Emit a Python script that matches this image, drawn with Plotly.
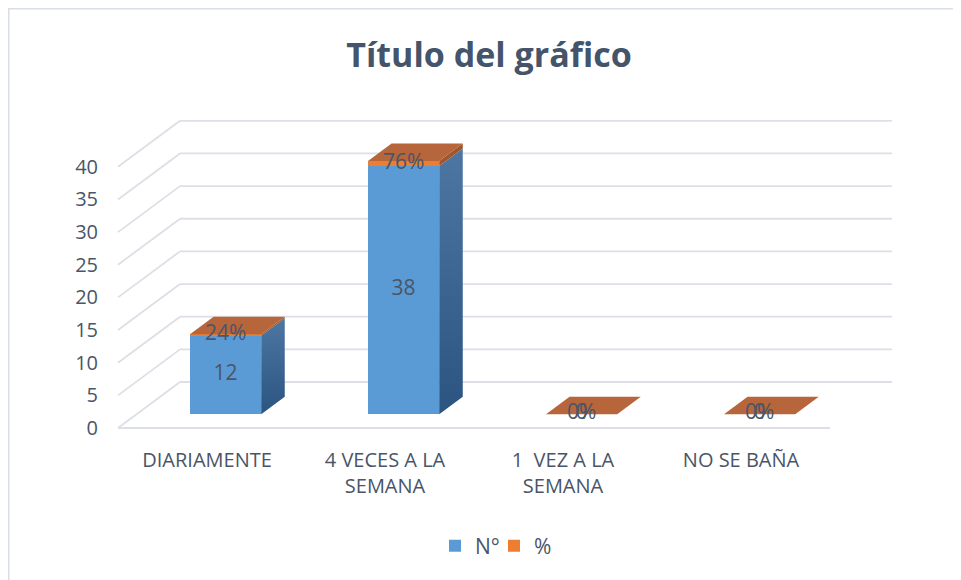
import plotly.graph_objects as go

# ---------------- data ----------------
categories = ["DIARIAMENTE", "4 VECES A LA SEMANA", "1  VEZ A LA SEMANA", "NO SE BAÑA"]
category_ticktext = ["DIARIAMENTE", "4 VECES A LA<br>SEMANA", "1  VEZ A LA<br>SEMANA", "NO SE BAÑA"]
n_values = [12, 38, 0, 0]
pct_values = [0.24, 0.76, 0, 0]
series_names = ["N°", "%"]
y_ticks = [0, 5, 10, 15, 20, 25, 30, 35, 40]
title_text = "Título del gráfico"

# ---------------- geometry / style (screen pixels) ----------------
SW, SH = 961, 580          # browser window
OFF = 8                    # default page body margin
W, H = SW - OFF, SH - OFF  # figure size
PX_PER_CAT = 178.0
PX_PER_UNIT = 6.53
X0_PX = 207.0      # screen x of first category (front plane)
Y0_PX = 428.0      # screen y of value 0 (front plane)
PLOT_L, PLOT_R, PLOT_T, PLOT_B = 103, 905, 100, 436   # plot area, screen px
ML, MR, MT, MB = PLOT_L - OFF, SW - PLOT_R, PLOT_T - OFF, SH - PLOT_B
DEPTH_X = 62.0 / PX_PER_CAT      # floor depth in category units
DEPTH_Y = 46.0 / PX_PER_UNIT     # floor depth in value units
F0, F1 = 0.30, 0.68              # bar front/back depth fractions
BAR_W = 0.40

TXT = "#4A5568"
GRID = "#DCE0E6"
BLUE = "#5B9BD5"
ORANGE = "#ED7D31"
TOP_ORANGE = "#B7653A"
SIDE_ORANGE = "#A0562A"
FONT = "Open Sans"

x_range = [(PLOT_L - X0_PX) / PX_PER_CAT, (PLOT_R - X0_PX) / PX_PER_CAT]
y_range = [(Y0_PX - PLOT_B) / PX_PER_UNIT, (Y0_PX - PLOT_T) / PX_PER_UNIT]

def paper_x(sx):
    return (sx - PLOT_L) / (PLOT_R - PLOT_L)

def paper_y(sy):
    return (PLOT_B - sy) / (PLOT_B - PLOT_T)

def cont_x(sx):
    return (sx - OFF) / W

def cont_y(sy):
    return 1 - (sy - OFF) / H

fig = go.Figure()

# ---------------- walls / gridlines ----------------
n_cat = len(categories)
u_front_l, u_front_r = -0.5, n_cat - 0.5
u_back_l, u_back_r = u_front_l + DEPTH_X, u_front_r + DEPTH_X
shapes = []
for v in y_ticks:
    shapes.append(dict(type="line", xref="x", yref="y", layer="below",
                       x0=u_back_l, x1=u_back_r, y0=v + DEPTH_Y, y1=v + DEPTH_Y,
                       line=dict(color=GRID, width=1.8)))
    shapes.append(dict(type="line", xref="x", yref="y", layer="below",
                       x0=u_front_l, x1=u_back_l, y0=v, y1=v + DEPTH_Y,
                       line=dict(color=GRID, width=1.8)))
shapes.append(dict(type="line", xref="x", yref="y", layer="below",
                   x0=u_front_l, x1=u_front_r, y0=0, y1=0,
                   line=dict(color=GRID, width=1.8)))
# chart frame (top & left edges)
shapes.append(dict(type="line", xref="paper", yref="paper", layer="below",
                   x0=paper_x(OFF), x1=paper_x(SW + 5), y0=paper_y(OFF + 0.8), y1=paper_y(OFF + 0.8),
                   line=dict(color="#D9DEE6", width=1.5)))
shapes.append(dict(type="line", xref="paper", yref="paper", layer="below",
                   x0=paper_x(OFF + 0.8), x1=paper_x(OFF + 0.8), y0=paper_y(OFF), y1=paper_y(SH + 5),
                   line=dict(color="#D9DEE6", width=1.5)))

# ---------------- bars (front faces) ----------------
cx = [i + F0 * DEPTH_X for i in range(n_cat)]
base0 = F0 * DEPTH_Y
fig.add_trace(go.Bar(x=cx, y=n_values, base=[base0] * n_cat, width=BAR_W,
                     name=series_names[0], marker=dict(color=BLUE, line=dict(width=0)),
                     hoverinfo="skip"))
fig.add_trace(go.Bar(x=cx, y=pct_values, base=[base0 + n for n in n_values], width=BAR_W,
                     name=series_names[1], marker=dict(color=ORANGE, line=dict(width=0)),
                     hoverinfo="skip"))

# ---------------- 3D side and top faces ----------------
dxd = (F1 - F0) * DEPTH_X
dyd = (F1 - F0) * DEPTH_Y
for i in range(n_cat):
    xl, xr = cx[i] - BAR_W / 2, cx[i] + BAR_W / 2
    n, p = n_values[i], pct_values[i]
    if n > 0:
        b, t = base0, base0 + n
        fig.add_trace(go.Scatter(x=[xr, xr, xr + dxd, xr + dxd, xr], y=[b, t, t + dyd, b + dyd, b],
                                 mode="lines", fill="toself", line=dict(width=0),
                                 fillgradient=dict(type="vertical",
                                                   colorscale=[[0, "#2B5480"], [1, "#4E76A2"]]),
                                 showlegend=False, hoverinfo="skip"))
    if p > 0:
        b, t = base0 + n, base0 + n + p
        fig.add_trace(go.Scatter(x=[xr, xr, xr + dxd, xr + dxd, xr], y=[b, t, t + dyd, b + dyd, b],
                                 mode="lines", fill="toself", line=dict(width=0), fillcolor=SIDE_ORANGE,
                                 showlegend=False, hoverinfo="skip"))
    top = base0 + n + p
    fig.add_trace(go.Scatter(x=[xl, xr, xr + dxd, xl + dxd, xl], y=[top, top, top + dyd, top + dyd, top],
                             mode="lines", fill="toself", line=dict(width=0), fillcolor=TOP_ORANGE,
                             showlegend=False, hoverinfo="skip"))

# ---------------- data labels ----------------
fig.add_trace(go.Scatter(x=cx, y=[base0 + n / 2 for n in n_values], mode="text",
                         text=[str(n) for n in n_values], textposition="middle center",
                         textfont=dict(family=FONT, size=21, color=TXT),
                         showlegend=False, hoverinfo="skip"))
fig.add_trace(go.Scatter(x=cx, y=[base0 + n + p / 2 for n, p in zip(n_values, pct_values)], mode="text",
                         text=[f"{p:.0%}" for p in pct_values], textposition="middle center",
                         textfont=dict(family=FONT, size=21, color=TXT),
                         showlegend=False, hoverinfo="skip"))

fig.update_layout(
    width=W, height=H,
    margin=dict(l=ML, r=MR, t=MT, b=MB, autoexpand=False),
    paper_bgcolor="white", plot_bgcolor="white",
    barmode="overlay", bargap=0,
    shapes=shapes,
    title=dict(text=f"<b>{title_text}</b>", x=cont_x(489), xref="container", xanchor="center",
               y=cont_y(55), yref="container", yanchor="middle",
               font=dict(family=FONT, size=34, color="#44546A")),
    xaxis=dict(range=x_range, showgrid=False, zeroline=False, showline=False,
               tickmode="array", tickvals=list(range(n_cat)), ticktext=category_ticktext,
               ticks="", tickfont=dict(family=FONT, size=20, color=TXT), ticklabelstandoff=10,
               fixedrange=True),
    yaxis=dict(range=y_range, showgrid=False, zeroline=False, showline=False,
               tickmode="array", tickvals=y_ticks, ticktext=[str(v) for v in y_ticks],
               ticks="", tickfont=dict(family=FONT, size=20, color=TXT), ticklabelstandoff=4,
               fixedrange=True),
    legend=dict(orientation="h", x=cont_x(494), xanchor="center", xref="container",
                y=cont_y(546), yanchor="middle", yref="container",
                entrywidth=14, entrywidthmode="pixels",
                font=dict(family=FONT, size=21, color=TXT), itemclick=False, itemdoubleclick=False,
                bgcolor="rgba(0,0,0,0)"),
    showlegend=True,
)

fig.write_html("out.html")
